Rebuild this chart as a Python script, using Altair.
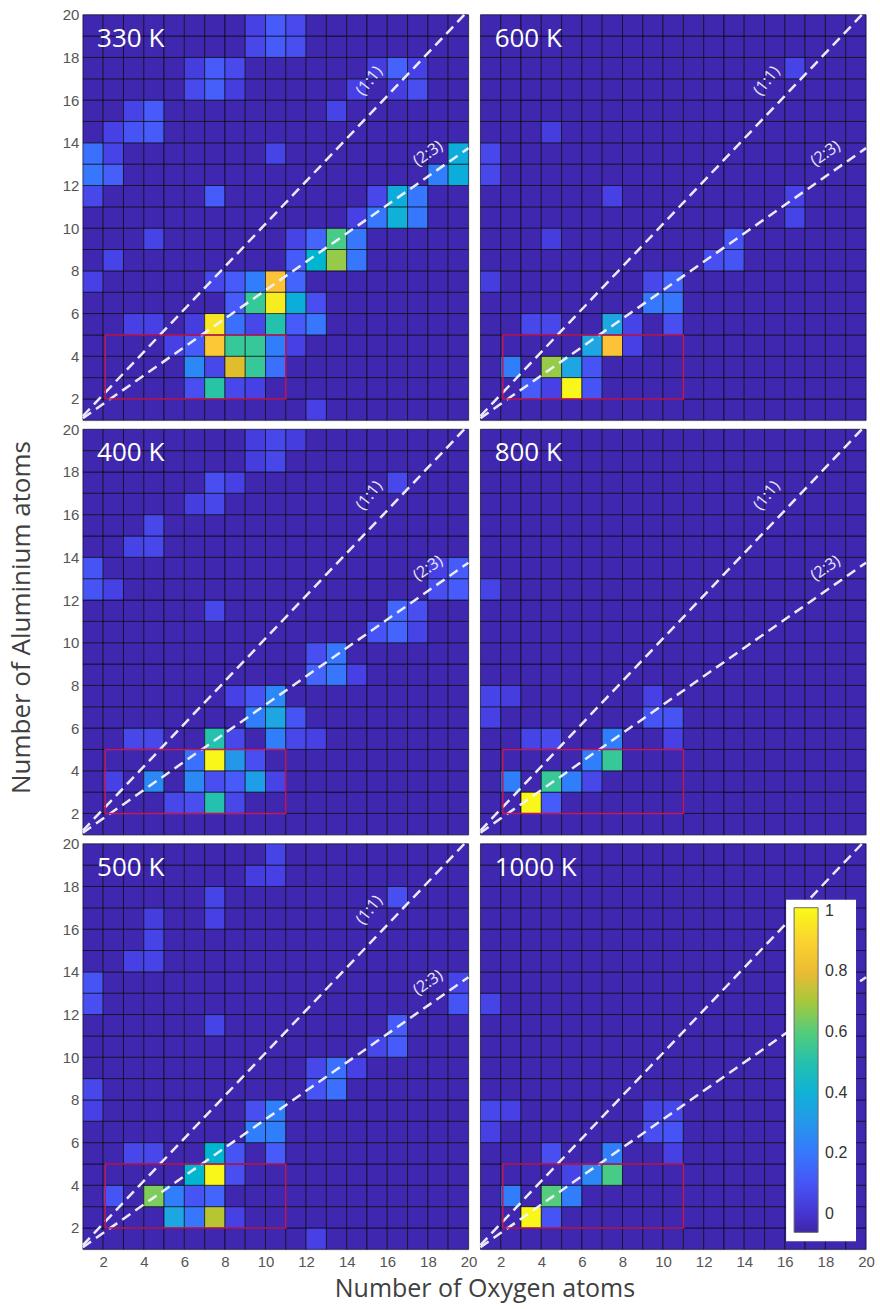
import altair as alt
import pandas as pd

# ---------------- data ----------------
TEMPERATURES = ["330 K", "600 K", "400 K", "800 K", "500 K", "1000 K"]
GRID_MIN, GRID_MAX = 1, 20            # cell edges run 1..20 (19 x 19 cells)
TICKS = [2, 4, 6, 8, 10, 12, 14, 16, 18, 20]
BACKGROUND = -0.05                    # value of the unlisted (empty) cells
COLOR_DOMAIN = [-0.06, 1.01]
COLORBAR_TICKS = [0, 0.2, 0.4, 0.6, 0.8, 1]

# (oxygen, aluminium, normalised abundance) for the non-empty cells
CELLS_330 = [
    (9, 19, 0.04), (10, 19, 0.12), (11, 19, 0.07),
    (9, 18, 0.06), (10, 18, 0.12), (11, 18, 0.08),
    (6, 17, 0.03), (7, 17, 0.12), (8, 17, 0.07), (15, 17, 0.03), (16, 17, 0.14), (17, 17, 0.04),
    (6, 16, 0.07), (7, 16, 0.13), (8, 16, 0.03), (14, 16, 0.04), (16, 16, 0.03), (17, 16, 0.08),
    (3, 15, 0.05), (4, 15, 0.12), (13, 15, 0.05),
    (2, 14, 0.04), (3, 14, 0.10), (4, 14, 0.12),
    (1, 13, 0.18), (2, 13, 0.05), (10, 13, 0.05), (19, 13, 0.38),
    (1, 12, 0.20), (2, 12, 0.13), (18, 12, 0.22), (19, 12, 0.38),
    (1, 11, 0.06), (7, 11, 0.12), (15, 11, 0.06), (16, 11, 0.38), (17, 11, 0.20),
    (14, 10, 0.04), (15, 10, 0.20), (16, 10, 0.40), (17, 10, 0.20),
    (4, 9, 0.05), (11, 9, 0.05), (12, 9, 0.15), (13, 9, 0.58), (14, 9, 0.20),
    (2, 8, 0.05), (11, 8, 0.12), (12, 8, 0.42), (13, 8, 0.68), (14, 8, 0.20),
    (1, 7, 0.04), (7, 7, 0.06), (8, 7, 0.12), (9, 7, 0.22), (10, 7, 0.85), (11, 7, 0.15),
    (8, 6, 0.12), (9, 6, 0.55), (10, 6, 0.97), (11, 6, 0.38), (12, 6, 0.08),
    (3, 5, 0.04), (4, 5, 0.04), (6, 5, 0.03), (7, 5, 0.95), (8, 5, 0.18), (9, 5, 0.06),
    (10, 5, 0.50), (11, 5, 0.12), (12, 5, 0.20),
    (5, 4, 0.04), (6, 4, 0.12), (7, 4, 0.87), (8, 4, 0.55), (9, 4, 0.55), (10, 4, 0.22), (11, 4, 0.04),
    (6, 3, 0.25), (7, 3, 0.06), (8, 3, 0.78), (9, 3, 0.55), (10, 3, 0.18),
    (6, 2, 0.08), (7, 2, 0.52), (8, 2, 0.06), (9, 2, 0.04),
    (12, 1, 0.04),
]
CELLS_600 = [
    (16, 17, 0.05),
    (4, 14, 0.03),
    (1, 13, 0.06),
    (1, 12, 0.06),
    (7, 11, 0.04), (16, 11, 0.04),
    (16, 10, 0.05),
    (4, 9, 0.03), (13, 9, 0.10),
    (12, 8, 0.08), (13, 8, 0.10),
    (1, 7, 0.03), (9, 7, 0.06), (10, 7, 0.15),
    (9, 6, 0.20), (10, 6, 0.20),
    (3, 5, 0.06), (4, 5, 0.06), (7, 5, 0.35), (8, 5, 0.05), (10, 5, 0.08),
    (6, 4, 0.35), (7, 4, 0.85), (8, 4, 0.04),
    (2, 3, 0.22), (4, 3, 0.68), (5, 3, 0.35), (6, 3, 0.10),
    (3, 2, 0.12), (4, 2, 0.04), (5, 2, 1.00), (6, 2, 0.10),
]
CELLS_400 = [
    (9, 19, 0.03), (10, 19, 0.06), (11, 19, 0.03),
    (9, 18, 0.03), (10, 18, 0.06),
    (7, 17, 0.08), (8, 17, 0.04), (16, 17, 0.06),
    (6, 16, 0.03), (7, 16, 0.06),
    (4, 15, 0.06),
    (3, 14, 0.05), (4, 14, 0.06),
    (1, 13, 0.10), (18, 13, 0.04), (19, 13, 0.12),
    (1, 12, 0.10), (2, 12, 0.04), (18, 12, 0.08), (19, 12, 0.12),
    (7, 11, 0.06), (16, 11, 0.15), (17, 11, 0.08),
    (15, 10, 0.10), (16, 10, 0.15), (17, 10, 0.05),
    (12, 9, 0.08), (13, 9, 0.20),
    (12, 8, 0.15), (13, 8, 0.20), (14, 8, 0.04),
    (8, 7, 0.04), (9, 7, 0.10), (10, 7, 0.25),
    (9, 6, 0.22), (10, 6, 0.35), (11, 6, 0.10),
    (3, 5, 0.06), (4, 5, 0.06), (7, 5, 0.50), (8, 5, 0.06), (10, 5, 0.22), (11, 5, 0.06), (12, 5, 0.04),
    (6, 4, 0.18), (7, 4, 1.00), (8, 4, 0.30), (9, 4, 0.08),
    (2, 3, 0.04), (4, 3, 0.25), (6, 3, 0.25), (7, 3, 0.08), (8, 3, 0.12), (9, 3, 0.32), (10, 3, 0.05),
    (5, 2, 0.06), (6, 2, 0.08), (7, 2, 0.50), (8, 2, 0.06),
]
CELLS_800 = [
    (1, 12, 0.05),
    (1, 7, 0.05), (2, 7, 0.03), (9, 7, 0.04),
    (1, 6, 0.04), (9, 6, 0.10), (10, 6, 0.10),
    (3, 5, 0.05), (4, 5, 0.07), (7, 5, 0.22), (10, 5, 0.04),
    (6, 4, 0.22), (7, 4, 0.55),
    (2, 3, 0.22), (4, 3, 0.55), (5, 3, 0.22), (6, 3, 0.06),
    (3, 2, 1.00), (4, 2, 0.12),
]
CELLS_500 = [
    (10, 19, 0.05),
    (9, 18, 0.03), (10, 18, 0.04),
    (7, 17, 0.05), (16, 17, 0.08),
    (4, 16, 0.03), (7, 16, 0.04),
    (4, 15, 0.05),
    (3, 14, 0.04), (4, 14, 0.05),
    (1, 13, 0.10), (19, 13, 0.05),
    (1, 12, 0.08), (19, 12, 0.10),
    (7, 11, 0.05), (16, 11, 0.12),
    (15, 10, 0.06), (16, 10, 0.12),
    (12, 9, 0.06), (13, 9, 0.18), (14, 9, 0.04),
    (1, 8, 0.06), (12, 8, 0.10), (13, 8, 0.18),
    (1, 7, 0.04), (9, 7, 0.08), (10, 7, 0.22),
    (9, 6, 0.22), (10, 6, 0.22),
    (3, 5, 0.06), (4, 5, 0.06), (7, 5, 0.42), (8, 5, 0.10), (10, 5, 0.12),
    (6, 4, 0.42), (7, 4, 1.00), (8, 4, 0.08),
    (2, 3, 0.10), (4, 3, 0.65), (5, 3, 0.22), (6, 3, 0.10), (7, 3, 0.15),
    (5, 2, 0.35), (6, 2, 0.20), (7, 2, 0.72), (8, 2, 0.04),
    (12, 1, 0.04),
]
CELLS_1000 = [
    (1, 12, 0.05),
    (1, 7, 0.06), (2, 7, 0.04), (9, 7, 0.05), (10, 7, 0.06),
    (1, 6, 0.04), (9, 6, 0.08), (10, 6, 0.10),
    (4, 5, 0.08), (7, 5, 0.22), (10, 5, 0.04),
    (5, 4, 0.05), (6, 4, 0.25), (7, 4, 0.58),
    (2, 3, 0.22), (4, 3, 0.60), (5, 3, 0.22),
    (3, 2, 1.00), (4, 2, 0.10),
]
PANEL_CELLS = [CELLS_330, CELLS_600, CELLS_400, CELLS_800, CELLS_500, CELLS_1000]

# stoichiometry guide lines (Al:O) and the highlighted region
RATIO_LINES = {"ratio": ["1:1", "2:3"], "x": [1.0, 1.0], "y": [1.2, 1.1],
               "x2": [19.8, 20.0], "y2": [20.0, 13.75]}
LABEL_11 = {"text": ["(1:1)"], "x": [15.1], "y": [16.9]}
LABEL_23 = {"text": ["(2:3)"], "x": [18.0], "y": [13.5]}
BOX = {"x": [2.1], "x2": [11.0], "y": [2.0], "y2": [5.0]}
TITLE_POS = {"x": [1.7], "y": [18.5]}

PARULA = ["#3e26a8", "#4432cb", "#4741e5", "#4852f4", "#4563fd", "#3875fe",
          "#2e87f7", "#2796eb", "#20a5e3", "#12b1d6", "#02bac3", "#24c1ae",
          "#37c897", "#57cc7a", "#81cc59", "#abc739", "#d1bf27", "#f0ba36",
          "#fec338", "#fad62d", "#f5e924", "#f9fb15"]

W, H = 386, 406
LABEL_FONT = "Liberation Sans"
TEXT_FONT = "Open Sans"


def grid_frame(cells):
    lookup = {(o, a): v for o, a, v in cells}
    rows = []
    for o in range(GRID_MIN, GRID_MAX):
        for a in range(GRID_MIN, GRID_MAX):
            rows.append({"o": o, "o2": o + 1, "a": a, "a2": a + 1,
                         "v": lookup.get((o, a), BACKGROUND)})
    return pd.DataFrame(rows)


def make_panel(idx):
    name = TEMPERATURES[idx]
    row, col = idx // 2, idx % 2
    xs = alt.Scale(domain=[GRID_MIN, GRID_MAX], nice=False, zero=False)
    ys = alt.Scale(domain=[GRID_MIN, GRID_MAX], nice=False, zero=False)

    if row == 2:
        xkw = dict(values=TICKS, labelFont=LABEL_FONT, labelFontSize=15, labelColor="#555555",
                   ticks=False, domain=False, grid=False, labelPadding=5, labelFlush=False)
        if col == 0:
            xaxis = alt.Axis(title="Number of Oxygen atoms", titleFont=TEXT_FONT, titleFontSize=25,
                             titleFontWeight="normal", titleColor="#404040",
                             titleBaseline="alphabetic", titleX=402, titleY=47, **xkw)
        else:
            xaxis = alt.Axis(title=None, **xkw)
    else:
        xaxis = None

    if col == 0:
        ykw = dict(values=TICKS, labelFont=LABEL_FONT, labelFontSize=15, labelColor="#555555",
                   ticks=False, domain=False, grid=False, labelPadding=4, labelFlush=False)
        if row == 1:
            yaxis = alt.Axis(title="Number of Aluminium atoms", titleFont=TEXT_FONT, titleFontSize=26,
                             titleFontWeight="normal", titleColor="#404040", titlePadding=28,
                             titleY=188, **ykw)
        else:
            yaxis = alt.Axis(title=None, **ykw)
    else:
        yaxis = None

    if idx == 5:
        legend = alt.Legend(orient="none", legendX=306, legendY=56, direction="vertical",
                            title=None, gradientLength=325, gradientThickness=24,
                            values=COLORBAR_TICKS, format=".1~f", labelFont=LABEL_FONT,
                            labelFontSize=16, labelColor="#333333", labelOffset=7,
                            fillColor="white", padding=8, gradientStrokeColor="#666666",
                            gradientStrokeWidth=1)
    else:
        legend = None

    def X(f):
        return alt.X(f, scale=xs, axis=xaxis)

    def Y(f):
        return alt.Y(f, scale=ys, axis=yaxis)

    heat = alt.Chart(grid_frame(PANEL_CELLS[idx])).mark_rect(
        stroke="black", strokeWidth=0.8, strokeOpacity=0.75
    ).encode(
        x=X("o:Q"), x2="o2:Q", y=Y("a:Q"), y2="a2:Q",
        color=alt.Color("v:Q", scale=alt.Scale(domain=COLOR_DOMAIN, range=PARULA, clamp=True),
                        legend=legend),
    )

    lines = alt.Chart(pd.DataFrame(RATIO_LINES)).mark_rule(
        color="#f4f4ff", strokeWidth=2.5, strokeDash=[10, 6], opacity=0.95
    ).encode(x=X("x:Q"), y=Y("y:Q"), x2="x2:Q", y2="y2:Q", detail="ratio:N")

    box = alt.Chart(pd.DataFrame(BOX)).mark_rect(
        fillOpacity=0, stroke="#c0185a", strokeWidth=1.5
    ).encode(x=X("x:Q"), x2="x2:Q", y=Y("y:Q"), y2="y2:Q")

    title = alt.Chart(pd.DataFrame({"t": [name], **TITLE_POS})).mark_text(
        align="left", baseline="alphabetic", font=TEXT_FONT, fontSize=26, color="white"
    ).encode(x=X("x:Q"), y=Y("y:Q"), text="t:N")

    layers = [heat, lines, box, title]
    if idx != 5:
        lab11 = alt.Chart(pd.DataFrame(LABEL_11)).mark_text(
            angle=308, font=TEXT_FONT, fontSize=16, color="#e8e8fa"
        ).encode(x=X("x:Q"), y=Y("y:Q"), text="text:N")
        lab23 = alt.Chart(pd.DataFrame(LABEL_23)).mark_text(
            angle=325, font=TEXT_FONT, fontSize=16, color="#e8e8fa"
        ).encode(x=X("x:Q"), y=Y("y:Q"), text="text:N")
        layers += [lab11, lab23]

    return alt.layer(*layers).properties(width=W, height=H)


panels = [make_panel(i) for i in range(6)]

chart = alt.concat(*panels, columns=2, spacing={"row": 9, "column": 12}, bounds="flush").resolve_scale(
    color="independent"
).resolve_legend(color="independent").properties(
    padding={"left": 7, "top": 6, "right": 5, "bottom": 3},
    background="white",
).configure_view(stroke="#c8c8ea", strokeWidth=1)

chart.save("out.html", embed_options={"renderer": "svg", "actions": False})
